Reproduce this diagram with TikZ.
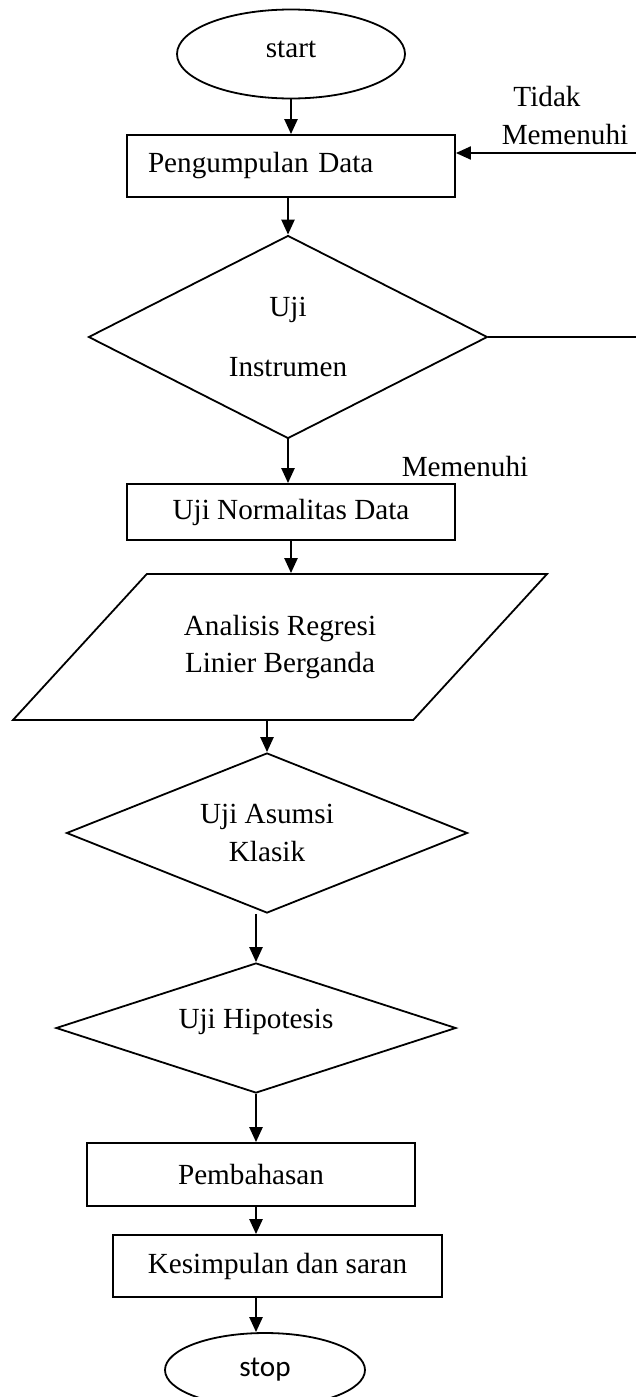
\documentclass[tikz,border=0pt]{standalone}
\usepackage{fontspec}
\setmainfont{Liberation Serif}
\newfontfamily\stopfont{Carlito}
\usetikzlibrary{arrows.meta,shapes.geometric}

\begin{document}
\begin{tikzpicture}[x={(0.5pt,0)}, y={(0,-0.5pt)},
  font=\fontsize{14.6pt}{18.5pt}\selectfont,
  every node/.style={inner sep=0pt},
  box/.style={draw, line width=0.9pt, rectangle, minimum width=164pt, align=center},
  terminal/.style={draw, line width=0.9pt, ellipse},
  decision/.style={draw, line width=0.9pt, diamond, aspect=3, align=center},
  io/.style={draw, line width=0.9pt, trapezium, trapezium left angle=47.5,
    trapezium right angle=132.5, trapezium stretches body, align=center},
  arr/.style={line width=1.2pt, -{Triangle[length=7.5pt,width=6.5pt]}}]
\useasboundingbox (0,0) rectangle (636,1397);
% start and data collection
\node[terminal, minimum width=114pt, minimum height=44.5pt, text height=8.5pt, text depth=5.5pt] (start) at (291,54) {start};
\node[box, minimum height=31pt, text width=143pt, align=left, inner xsep=10.5pt] (kumpul) at (291,166) {Pengumpulan Data};
% instrument test
\node[decision, minimum width=199.5pt, minimum height=101.5pt] (instrumen) at (288,337) {Uji\\[11.5pt]Instrumen};
\node (tidak) at (547,97) {Tidak};
\node (tidakm) at (565,135) {Memenuhi};
\node (memenuhi) at (465,467) {Memenuhi};
\node[box, minimum height=28pt] (normal) at (291,512) {Uji Normalitas Data};
% regression
\node[io, minimum width=267pt, inner ysep=20.6pt] (para) at (280,647) {Analisis Regresi\\Linier Berganda};
\node[decision, minimum width=200.5pt, minimum height=80pt] (asumsi) at (267,833) {Uji Asumsi\\[0.5pt]Klasik};
\node[decision, minimum width=200pt, minimum height=65pt, text height=10pt, text depth=10pt] (hipotesis) at (256,1028) {Uji Hipotesis};
% closing
\node[box, minimum height=31.5pt] (bahas) at (251,1174.5) {Pembahasan};
\node[box, minimum width=164.5pt, minimum height=31pt] (simpul) at (277.5,1266) {Kesimpulan dan saran};
\node[terminal, minimum width=100pt, minimum height=37pt, font=\stopfont\fontsize{14.6pt}{18.5pt}\selectfont] (stop) at (265,1370) {stop};
% arrows
\draw[arr] (start) -- (kumpul);
\draw[arr] (kumpul.south -| instrumen.north) -- (instrumen.north);
\draw[arr] (instrumen.south) -- (instrumen.south |- normal.north);
\draw[arr] (normal) -- (normal |- para.north);
\draw[arr] (para.south -| asumsi.north) -- (asumsi.north);
\draw[arr] (asumsi.south -| hipotesis.north) -- (hipotesis.north);
\draw[arr] (hipotesis) -- (hipotesis |- bahas.north);
\draw[arr] (hipotesis |- bahas.south) -- (hipotesis |- simpul.north);
\draw[arr] (hipotesis |- simpul.south) -- (hipotesis |- stop.north);
% back to data collection
\draw[line width=1pt, -{Triangle[length=7.5pt,width=6.5pt]}] (instrumen.east) -- ++(160,0) |- ([yshift=6.5pt]kumpul.east);
\end{tikzpicture}
\end{document}
